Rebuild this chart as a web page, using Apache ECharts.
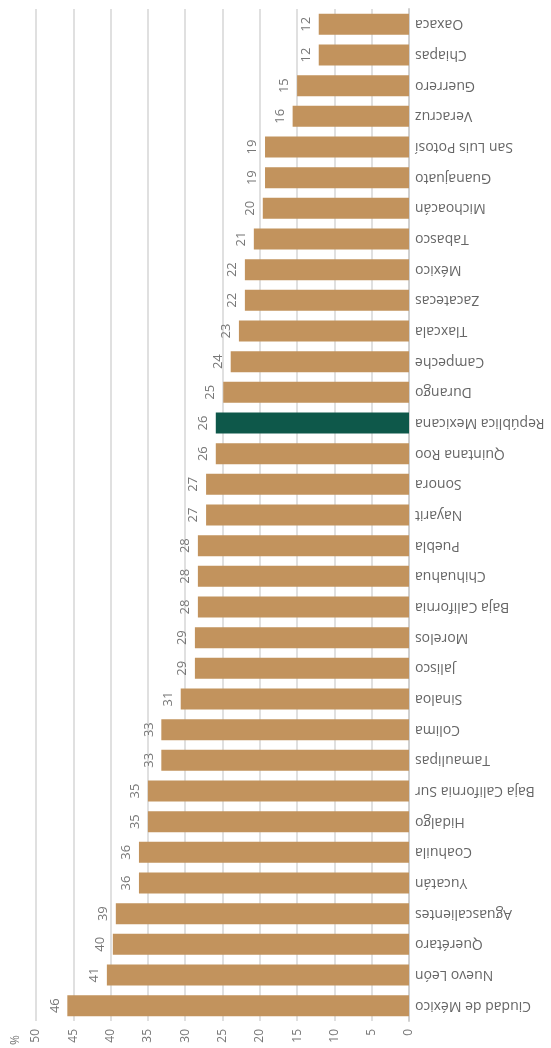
<!DOCTYPE html>
<html><head><meta charset="utf-8">
<script src="https://cdn.jsdelivr.net/npm/echarts@6/dist/echarts.min.js"></script>
<style>html,body{margin:0;padding:0;background:#fff}#c{width:551px;height:1048px}</style>
</head><body><div id="c"></div>
<script>
const categories = ["Ciudad de México","Nuevo León","Querétaro","Aguascalientes","Yucatán","Coahuila","Hidalgo","Baja California Sur","Tamaulipas","Colima","Sinaloa","Jalisco","Morelos","Baja California","Chihuahua","Puebla","Nayarit","Sonora","Quintana Roo","República Mexicana","Durango","Campeche","Tlaxcala","Zacatecas","México","Tabasco","Michoacán","Guanajuato","San Luis Potosí","Veracruz","Guerrero","Chiapas","Oaxaca"];
const values = [45.8,40.5,39.7,39.3,36.2,36.2,35.0,35.0,33.2,33.2,30.6,28.7,28.7,28.3,28.3,28.3,27.2,27.2,25.9,25.9,24.9,23.9,22.8,22.0,22.0,20.8,19.6,19.3,19.3,15.6,15.0,12.1,12.1];
const highlight = "República Mexicana";
const tickStep = 5, axisMax = 50;
const font = "Open Sans";
const chart = echarts.init(document.getElementById('c'), null, {renderer:'canvas'});
chart.setOption({
  animation:false,
  grid:{left:36,right:142,top:9,bottom:27,containLabel:false},
  xAxis:{type:'value',inverse:true,min:0,max:axisMax,interval:tickStep,position:'bottom',
    name:'%',nameLocation:'end',nameGap:20,nameRotate:90,
    nameTextStyle:{color:'#777',fontSize:12,fontFamily:font,align:'right',verticalAlign:'middle',padding:[0,14,0,0]},
    axisLine:{show:false},axisTick:{show:false},
    axisLabel:{rotate:90,margin:8,color:'#777',fontSize:12,fontFamily:font},
    splitLine:{show:true,lineStyle:{color:'#d6d6d6',width:1.5}}},
  yAxis:{type:'category',data:categories,position:'right',
    axisLine:{show:true,lineStyle:{color:'#d0d0d0',width:2}},axisTick:{show:false},
    axisLabel:{rotate:180,margin:6,color:'#666',fontSize:14,fontFamily:font}},
  series:[{type:'bar',barWidth:21,
    data:values.map((v,i)=>({value:v,itemStyle:{color:categories[i]===highlight?'#0E584A':'#C2935D'}})),
    label:{show:true,position:'left',distance:6,rotate:90,align:'center',verticalAlign:'bottom',
      color:'#777',fontSize:13,fontFamily:font,formatter:p=>Math.round(p.value)}}]
});
</script></body></html>
